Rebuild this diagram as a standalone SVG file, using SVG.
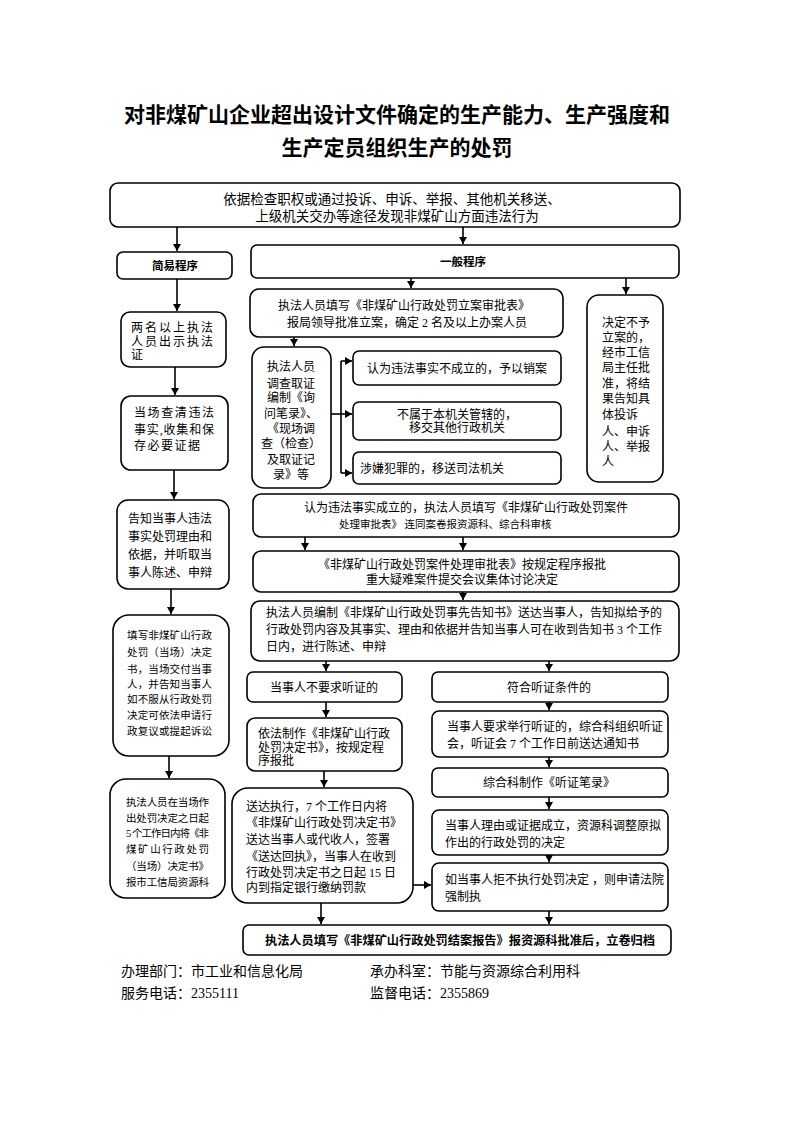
<svg xmlns="http://www.w3.org/2000/svg" width="793" height="1122" viewBox="0 0 793 1122">
<defs>
<marker id="ah" markerWidth="8" markerHeight="8" refX="7" refY="4" orient="auto" markerUnits="userSpaceOnUse">
<path d="M0,0 L7,4 L0,8 Z" fill="#000"/>
</marker>
<style>
.b{fill:#fff;stroke:#000;stroke-width:1.6}
.t{font-family:"Liberation Serif","Noto Sans CJK SC",serif;font-size:12px;fill:#000}
.c{text-anchor:middle}
.s{font-size:10.5px}
.m{font-size:13.5px}
.f{font-size:14px}
.h{font-family:"Liberation Serif","Noto Sans CJK SC",serif;font-weight:bold;fill:#000}
.l{fill:none;stroke:#000;stroke-width:1.6}
.a{fill:none;stroke:#000;stroke-width:1.6;marker-end:url(#ah)}
</style>
</defs>
<rect width="793" height="1122" fill="#fff"/>
<g id="title">
<text class="h c" x="397" y="122" font-size="21">对非煤矿山企业超出设计文件确定的生产能力、生产强度和</text>
<text class="h c" x="397" y="155" font-size="21">生产定员组织生产的处罚</text>
</g>
<g id="n_start"><rect class="b" x="110" y="183" width="570" height="44" rx="8"/>
<text class="t c m" x="392" y="204">依据检查职权或通过投诉、申诉、举报、其他机关移送、</text>
<text class="t c m" x="397" y="221">上级机关交办等途径发现非煤矿山方面违法行为</text></g>
<g id="n_simple"><rect class="b" x="117" y="252" width="115" height="27" rx="6"/>
<text class="h c" x="175" y="270" font-size="11.5">简易程序</text></g>
<g id="n_general"><rect class="b" x="251" y="245" width="428" height="33" rx="6"/>
<text class="h c" x="463" y="266" font-size="11.5">一般程序</text></g>
<g id="n_s1"><rect class="b" x="121" y="312" width="105" height="55" rx="9"/>
<text class="t" x="131" y="332" textLength="82" lengthAdjust="spacing">两名以上执法</text>
<text class="t" x="131" y="346" textLength="82" lengthAdjust="spacing">人员出示执法</text>
<text class="t" x="131" y="359">证</text></g>
<g id="n_s2"><rect class="b" x="121" y="396" width="107" height="74" rx="10"/>
<text class="t" x="134" y="417" textLength="80" lengthAdjust="spacing">当场查清违法</text>
<text class="t" x="134" y="434" textLength="80" lengthAdjust="spacing">事实,收集和保</text>
<text class="t" x="134" y="450" textLength="66" lengthAdjust="spacing">存必要证据</text></g>
<g id="n_s3"><rect class="b" x="117" y="500" width="112" height="89" rx="11"/>
<text class="t" x="128" y="523">告知当事人违法</text>
<text class="t" x="128" y="541">事实处罚理由和</text>
<text class="t" x="128" y="559">依据，并听取当</text>
<text class="t" x="128" y="577">事人陈述、申辩</text></g>
<g id="n_s4"><rect class="b" x="113" y="615" width="116" height="141" rx="16"/>
<text class="t s" x="127" y="639" textLength="85" lengthAdjust="spacing">填写非煤矿山行政</text>
<text class="t s" x="127" y="656" textLength="85" lengthAdjust="spacing">处罚（当场）决定</text>
<text class="t s" x="127" y="673" textLength="85" lengthAdjust="spacing">书，当场交付当事</text>
<text class="t s" x="127" y="688" textLength="85" lengthAdjust="spacing">人，并告知当事人</text>
<text class="t s" x="127" y="703" textLength="85" lengthAdjust="spacing">如不服从行政处罚</text>
<text class="t s" x="127" y="719" textLength="85" lengthAdjust="spacing">决定可依法申请行</text>
<text class="t s" x="127" y="735" textLength="85" lengthAdjust="spacing">政复议或提起诉讼</text></g>
<g id="n_s5"><rect class="b" x="110" y="779" width="115" height="119" rx="16"/>
<text class="t s" x="126" y="806" textLength="83" lengthAdjust="spacing">执法人员在当场作</text>
<text class="t s" x="126" y="822" textLength="83" lengthAdjust="spacing">出处罚决定之日起</text>
<text class="t s" x="126" y="837" textLength="83" lengthAdjust="spacing">5 个工作日内将《非</text>
<text class="t s" x="126" y="853" textLength="83" lengthAdjust="spacing">煤矿山行政处罚</text>
<text class="t s" x="126" y="870" textLength="83" lengthAdjust="spacing">（当场）决定书》</text>
<text class="t s" x="126" y="886" textLength="83" lengthAdjust="spacing">报市工信局资源科</text></g>
<g id="n_g1"><rect class="b" x="250" y="289" width="313" height="48" rx="9"/>
<text class="t c" x="404" y="310">执法人员填写《非煤矿山行政处罚立案审批表》</text>
<text class="t c" x="407" y="327">报局领导批准立案，确定 2 名及以上办案人员</text></g>
<g id="n_g2"><rect class="b" x="252" y="347" width="79" height="141" rx="12"/>
<text class="t c" x="291" y="371">执法人员</text>
<text class="t c" x="291" y="388">调查取证</text>
<text class="t c" x="291" y="402">编制《询</text>
<text class="t c" x="291" y="418">问笔录》、</text>
<text class="t c" x="291" y="433">《现场调</text>
<text class="t c" x="291" y="448">查（检查）</text>
<text class="t c" x="291" y="464">及取证记</text>
<text class="t c" x="291" y="479">录》等</text></g>
<g id="n_g3"><rect class="b" x="353" y="351" width="208" height="34" rx="6"/>
<text class="t" x="367" y="373">认为违法事实不成立的，予以销案</text></g>
<g id="n_g4"><rect class="b" x="353" y="402" width="208" height="38" rx="6"/>
<text class="t" x="397" y="419">不属于本机关管辖的，</text>
<text class="t" x="409" y="432">移交其他行政机关</text></g>
<g id="n_g5"><rect class="b" x="353" y="452" width="208" height="32" rx="6"/>
<text class="t" x="360" y="473">涉嫌犯罪的，移送司法机关</text></g>
<g id="n_g6"><rect class="b" x="587" y="295" width="76" height="187" rx="12"/>
<text class="t" x="602" y="327">决定不予</text>
<text class="t" x="602" y="342">立案的，</text>
<text class="t" x="602" y="357">经市工信</text>
<text class="t" x="602" y="372">局主任批</text>
<text class="t" x="602" y="388">准，将结</text>
<text class="t" x="602" y="403">果告知具</text>
<text class="t" x="602" y="419">体投诉</text>
<text class="t" x="602" y="436">人、申诉</text>
<text class="t" x="602" y="451">人、举报</text>
<text class="t" x="602" y="466">人</text></g>
<g id="n_g7"><rect class="b" x="253" y="494" width="426" height="43" rx="8"/>
<text class="t c" x="466" y="512">认为违法事实成立的，执法人员填写《非煤矿山行政处罚案件</text>
<text class="t s" x="339" y="528">处理审批表》 连同案卷报资源科、综合科审核</text></g>
<g id="n_g8"><rect class="b" x="253" y="551" width="426" height="41" rx="8"/>
<text class="t c" x="462" y="569">《非煤矿山行政处罚案件处理审批表》按规定程序报批</text>
<text class="t c" x="462" y="584">重大疑难案件提交会议集体讨论决定</text></g>
<g id="n_g9"><rect class="b" x="251" y="601" width="428" height="60" rx="9"/>
<text class="t" x="266" y="617">执法人员编制《非煤矿山行政处罚事先告知书》送达当事人，告知拟给予的</text>
<text class="t" x="266" y="634">行政处罚内容及其事实、理由和依据并告知当事人可在收到告知书 3 个工作</text>
<text class="t" x="266" y="651">日内，进行陈述、申辩</text></g>
<g id="n_g10"><rect class="b" x="247" y="672" width="155" height="30" rx="6"/>
<text class="t c" x="324" y="692">当事人不要求听证的</text></g>
<g id="n_g11"><rect class="b" x="432" y="672" width="236" height="30" rx="6"/>
<text class="t c" x="549" y="692">符合听证条件的</text></g>
<g id="n_g12"><rect class="b" x="247" y="718" width="155" height="53" rx="8"/>
<text class="t" x="258" y="738">依法制作《非煤矿山行政</text>
<text class="t" x="258" y="752">处罚决定书》，按规定程</text>
<text class="t" x="258" y="765">序报批</text></g>
<g id="n_g13"><rect class="b" x="432" y="711" width="236" height="46" rx="7"/>
<text class="t" x="447" y="731">当事人要求举行听证的，综合科组织听证</text>
<text class="t" x="447" y="748">会，听证会 7 个工作日前送达通知书</text></g>
<g id="n_g14"><rect class="b" x="432" y="768" width="236" height="29" rx="6"/>
<text class="t c" x="549" y="787">综合科制作《听证笔录》</text></g>
<g id="n_g15"><rect class="b" x="432" y="810" width="236" height="45" rx="7"/>
<text class="t" x="445" y="830">当事人理由或证据成立，资源科调整原拟</text>
<text class="t" x="445" y="847">作出的行政处罚的决定</text></g>
<g id="n_g16"><rect class="b" x="432" y="863" width="236" height="48" rx="7"/>
<text class="t" x="445" y="884">如当事人拒不执行处罚决定 ，则申请法院</text>
<text class="t" x="445" y="901">强制执</text></g>
<g id="n_g17"><rect class="b" x="232" y="788" width="181" height="115" rx="16"/>
<text class="t" x="246" y="811">送达执行，7 个工作日内将</text>
<text class="t" x="246" y="827">《非煤矿山行政处罚决定书》</text>
<text class="t" x="246" y="844">送达当事人或代收人，签署</text>
<text class="t" x="246" y="861">《送达回执》，当事人在收到</text>
<text class="t" x="246" y="877">行政处罚决定书之日起 15 日</text>
<text class="t" x="246" y="892">内到指定银行缴纳罚款</text></g>
<g id="n_end"><rect class="b" x="243" y="925" width="428" height="30" rx="6"/>
<text class="h c" x="460" y="945" font-size="12.2">执法人员填写《非煤矿山行政处罚结案报告》报资源科批准后，立卷归档</text></g>
<g id="footer">
<text class="t f" x="121" y="976">办理部门：市工业和信息化局</text>
<text class="t f" x="370" y="976">承办科室：节能与资源综合利用科</text>
<text class="t f" x="121" y="998">服务电话：2355111</text>
<text class="t f" x="370" y="998">监督电话：2355869</text>
</g>
<g id="connectors">
<line class="a" x1="177" y1="227" x2="177" y2="251"/>
<line class="a" x1="463" y1="227" x2="463" y2="244"/>
<line class="a" x1="177" y1="279" x2="177" y2="311"/>
<line class="a" x1="175" y1="367" x2="175" y2="395"/>
<line class="a" x1="174" y1="470" x2="174" y2="499"/>
<line class="a" x1="171" y1="589" x2="171" y2="614"/>
<line class="a" x1="169" y1="756" x2="169" y2="778"/>
<line class="a" x1="411" y1="278" x2="411" y2="288"/>
<line class="a" x1="626" y1="278" x2="626" y2="294"/>
<line class="a" x1="294" y1="337" x2="294" y2="346"/>
<line class="l" x1="331" y1="414" x2="341" y2="414"/>
<line class="l" x1="341" y1="361" x2="341" y2="473"/>
<line class="a" x1="341" y1="361" x2="352" y2="361"/>
<line class="a" x1="341" y1="414" x2="352" y2="414"/>
<line class="a" x1="341" y1="473" x2="352" y2="473"/>
<line class="a" x1="305" y1="537" x2="305" y2="550"/>
<line class="a" x1="463" y1="537" x2="463" y2="550"/>
<line class="a" x1="463" y1="592" x2="463" y2="600"/>
<line class="a" x1="326" y1="661" x2="326" y2="671"/>
<line class="a" x1="549" y1="661" x2="549" y2="671"/>
<line class="a" x1="326" y1="702" x2="326" y2="717"/>
<line class="a" x1="549" y1="702" x2="549" y2="710"/>
<line class="a" x1="549" y1="757" x2="549" y2="767"/>
<line class="a" x1="549" y1="797" x2="549" y2="809"/>
<line class="a" x1="549" y1="855" x2="549" y2="862"/>
<line class="a" x1="324" y1="771" x2="324" y2="787"/>
<line class="a" x1="413" y1="885" x2="431" y2="885"/>
<line class="a" x1="321" y1="903" x2="321" y2="924"/>
<line class="a" x1="549" y1="911" x2="549" y2="924"/>
</g>
</svg>
